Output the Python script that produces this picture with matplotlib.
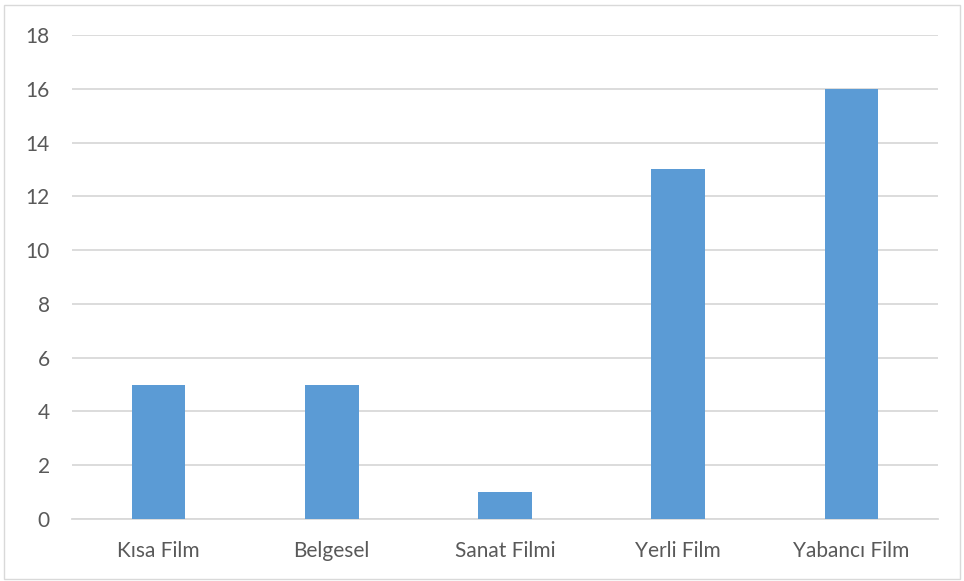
import matplotlib.pyplot as plt
from matplotlib.patches import Rectangle

# film categories and counts
categories = ["Kısa Film", "Belgesel", "Sanat Filmi", "Yerli Film", "Yabancı Film"]
counts = [5, 5, 1, 13, 16]
yticks = [0, 2, 4, 6, 8, 10, 12, 14, 16, 18]

plt.rcParams['font.family'] = ['Lato', 'DejaVu Sans']

fig = plt.figure(figsize=(9.64, 5.81), dpi=100)
ax = fig.add_axes([0.0747, 0.1067, 0.8983, 0.8331])

ax.bar(range(len(categories)), counts, width=0.31, color="#5B9BD5", zorder=3)

ax.set_xlim(-0.5, len(categories) - 0.5)
ax.set_ylim(0, 18)
ax.set_yticks(yticks)
ax.set_xticks(range(len(categories)))
ax.set_xticklabels(categories)
ax.grid(axis="y", color="#D9D9D9", linewidth=1.3, zorder=0)
ax.tick_params(length=0, labelsize=15, labelcolor="#595959")
ax.tick_params(axis="y", pad=16)
ax.tick_params(axis="x", pad=16)
for s in ["top", "right", "left"]:
    ax.spines[s].set_visible(False)
ax.spines["bottom"].set_color("#D9D9D9")
ax.spines["bottom"].set_linewidth(1.3)

# light chart frame
fig.patches.append(Rectangle((0.004, 0.003), 0.992, 0.989, transform=fig.transFigure,
                             fill=False, edgecolor="#D9D9D9", linewidth=1.0))

fig.savefig("out.png", dpi=100)
